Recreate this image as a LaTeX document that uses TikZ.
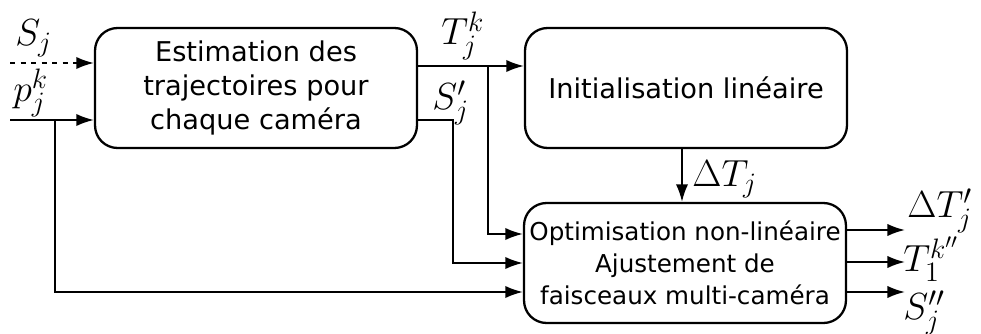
\RequirePackage{fix-cm}
\documentclass[tikz,border=0pt]{standalone}
\usepackage{fontspec}
\setsansfont{DejaVu Sans}
\usetikzlibrary{arrows.meta,positioning}
\DeclareMathSizes{21.5}{21.5}{16}{12}

\tikzset{
  bloc/.style={draw,line width=1.3pt,rounded corners=0.45cm,minimum width=6.44cm,
               minimum height=2.4cm,align=center,inner sep=0pt,font=\sffamily\fontsize{15.5}{19.5}\selectfont},
  fleche/.style={-{Latex[length=10pt,width=7pt]},line width=1.1pt},
  etiq/.style={font=\fontsize{21.5}{24}\selectfont,inner sep=0pt,anchor=base west}
}

\begin{document}
\begin{tikzpicture}[x=0.02cm,y=-0.02cm]
  \useasboundingbox (0,0) rectangle (981,334);

  % Blocs
  \node[bloc] (estim) at (256,88) {Estimation des\\trajectoires pour\\chaque caméra};
  \node[bloc] (init)  at (686,88) {Initialisation linéaire};
  \node[bloc,font=\sffamily\fontsize{14}{18.2}\selectfont] (optim) at (685,263)
       {Optimisation non-linéaire\\Ajustement de\\faisceaux multi-caméra};

  % Entrees
  \coordinate (sIn) at (10,63);
  \coordinate (pIn) at (10,120);
  \coordinate (pBr) at (55,120);
  \draw[fleche,dashed] (sIn) -- (estim.west |- sIn);
  \draw[fleche] (pIn) -- (estim.west |- pIn);
  \draw[fleche] (pBr) |- (optim.west |- 0,292);
  \node[etiq] (sj) at (15,46) {$S_j$};
  \node[etiq] (pj) at (13,102) {$p_j^k$};

  % Sorties de l'estimation
  \coordinate (tOut) at (estim.east |- 0,66);
  \coordinate (tBr) at (488,66);
  \coordinate (sOut) at (estim.east |- 0,120);
  \draw[fleche] (tOut) -- (init.west |- tOut);
  \draw[fleche] (tBr) |- (optim.west |- 0,234);
  \draw[fleche] (sOut) -| (453,200) |- (optim.west |- 0,263);
  \node[etiq] (tj) at (441,45) {$T_j^k$};
  \node[etiq] (sjp) at (432,110) {$S'_j$};

  % Initialisation -> optimisation
  \draw[fleche] (init.south -| 682,0) -- (optim.north -| 682,0);
  \node[etiq] (dtj) at (692,187) {$\Delta T_j$};

  % Sorties
  \foreach \y in {230,262,292}{
    \draw[fleche] (optim.east |- 0,\y) -- (905,\y);
  }
  \node[etiq] (dtp) at (907,218) {$\Delta T'_j$};
  \node[etiq] (tkpp) at (903,272) {$T_1^{k''}$};
  \node[etiq] (sjpp) at (903,320) {$S''_j$};
\end{tikzpicture}
\end{document}
